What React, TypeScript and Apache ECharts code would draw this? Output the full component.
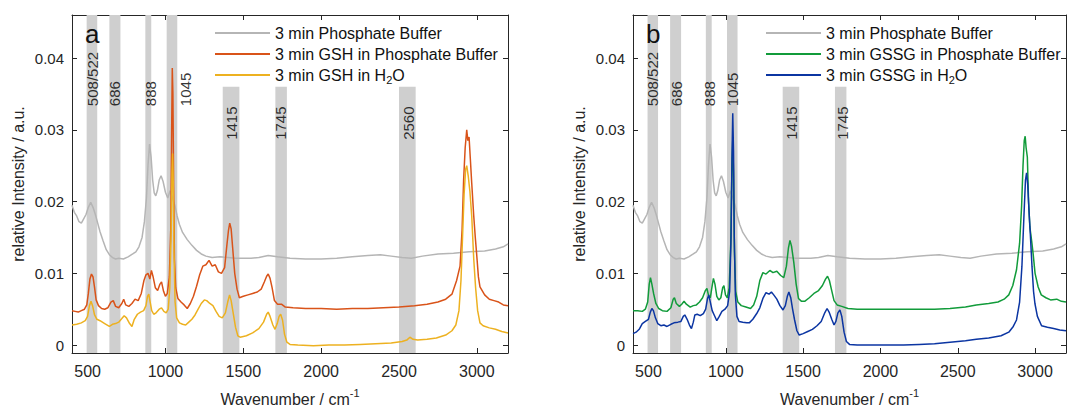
import React, { useEffect, useRef } from "react";
import * as echarts from "echarts";

// ---------- data ----------
const xTicks = [500, 1000, 1500, 2000, 2500, 3000];
const yTicks = [0, 0.01, 0.02, 0.03, 0.04];

const nameBuffer = "3 min Phosphate Buffer";
const nameGshPB = "3 min GSH in Phosphate Buffer";
const nameGshH2O = "3 min GSH in H2O";
const nameGssgPB = "3 min GSSG in Phosphate Buffer";
const nameGssgH2O = "3 min GSSG in H2O";

const bufferSpectrum: [number, number][] = [
  [400,0.0195],[415,0.0185],[430,0.0180],[445,0.0172],[460,0.0170],[475,0.0176],[490,0.0182],[505,0.0192],[520,0.0199],[535,0.0192],[550,0.0182],[565,0.0170],[580,0.0158],[600,0.0145],[620,0.0133],[640,0.0126],[660,0.0122],[680,0.0120],[700,0.0121],[730,0.0120],[760,0.0123],[790,0.0127],[810,0.0130],[830,0.0137],[850,0.0150],[865,0.0172],[878,0.0205],[888,0.0250],[898,0.0280],[908,0.0262],[918,0.0230],[928,0.0212],[938,0.0208],[948,0.0215],[960,0.0230],[972,0.0236],[985,0.0228],[1000,0.0213],[1015,0.0205],[1030,0.0215],[1045,0.0205],[1060,0.0195],[1075,0.0180],[1090,0.0168],[1110,0.0157],[1140,0.0147],[1170,0.0139],[1200,0.0132],[1230,0.0127],[1260,0.0124],[1300,0.0122],[1350,0.0123],[1400,0.0122],[1450,0.0121],[1500,0.0121],[1550,0.0121],[1600,0.0122],[1660,0.0125],[1720,0.0123],[1800,0.0121],[1900,0.0120],[2000,0.0120],[2100,0.0121],[2200,0.0123],[2300,0.0125],[2380,0.0126],[2450,0.0124],[2520,0.0122],[2580,0.0121],[2650,0.0124],[2750,0.0127],[2850,0.0128],[2950,0.0130],[3050,0.0131],[3120,0.0134],[3170,0.0137],[3200,0.0141]
];

const gshBufferSpectrum: [number, number][] = [
  [400,0.0048],[420,0.0047],[440,0.0046],[460,0.0048],[480,0.0050],[495,0.0056],[505,0.0072],[515,0.0092],[525,0.0099],[535,0.0095],[545,0.0080],[555,0.0063],[570,0.0055],[590,0.0051],[610,0.0050],[630,0.0052],[650,0.0060],[665,0.0062],[680,0.0054],[700,0.0052],[720,0.0058],[732,0.0064],[745,0.0056],[765,0.0054],[785,0.0058],[805,0.0064],[825,0.0062],[845,0.0072],[862,0.0090],[875,0.0098],[888,0.0100],[900,0.0092],[910,0.0104],[920,0.0096],[935,0.0080],[950,0.0076],[965,0.0085],[975,0.0088],[988,0.0075],[1000,0.0068],[1012,0.0072],[1025,0.0095],[1034,0.0160],[1040,0.0300],[1044,0.0386],[1048,0.0350],[1053,0.0220],[1058,0.0120],[1066,0.0080],[1080,0.0065],[1100,0.0060],[1120,0.0056],[1140,0.0051],[1160,0.0058],[1180,0.0068],[1200,0.0082],[1220,0.0098],[1240,0.0110],[1260,0.0112],[1280,0.0118],[1300,0.0110],[1320,0.0112],[1340,0.0102],[1360,0.0100],[1380,0.0108],[1395,0.0140],[1405,0.0160],[1413,0.0170],[1422,0.0162],[1432,0.0135],[1445,0.0100],[1460,0.0078],[1475,0.0066],[1500,0.0068],[1530,0.0070],[1560,0.0072],[1590,0.0074],[1615,0.0078],[1635,0.0088],[1650,0.0096],[1660,0.0099],[1672,0.0093],[1685,0.0080],[1700,0.0062],[1720,0.0057],[1745,0.0057],[1770,0.0053],[1820,0.0052],[1900,0.0051],[2000,0.0051],[2100,0.0050],[2200,0.0051],[2300,0.0051],[2400,0.0052],[2500,0.0053],[2600,0.0055],[2680,0.0057],[2750,0.0060],[2800,0.0064],[2840,0.0071],[2870,0.0090],[2892,0.0110],[2905,0.0160],[2915,0.0230],[2925,0.0275],[2935,0.0300],[2942,0.0285],[2950,0.0290],[2958,0.0260],[2967,0.0226],[2980,0.0180],[2990,0.0150],[2999,0.0126],[3010,0.0095],[3020,0.0081],[3050,0.0070],[3080,0.0064],[3110,0.0062],[3140,0.0060],[3170,0.0056],[3200,0.0055]
];

const gshWaterSpectrum: [number, number][] = [
  [400,0.0028],[430,0.0029],[460,0.0031],[485,0.0034],[500,0.0040],[512,0.0055],[522,0.0061],[532,0.0055],[545,0.0042],[560,0.0036],[580,0.0034],[610,0.0030],[640,0.0026],[660,0.0029],[680,0.0030],[700,0.0032],[720,0.0037],[735,0.0041],[750,0.0038],[770,0.0030],[785,0.0026],[800,0.0036],[820,0.0043],[840,0.0046],[860,0.0048],[875,0.0055],[885,0.0068],[893,0.0071],[902,0.0060],[912,0.0048],[925,0.0043],[940,0.0045],[960,0.0050],[975,0.0052],[990,0.0047],[1005,0.0045],[1018,0.0050],[1028,0.0080],[1036,0.0150],[1042,0.0240],[1046,0.0267],[1050,0.0230],[1055,0.0130],[1062,0.0060],[1072,0.0038],[1090,0.0031],[1110,0.0029],[1130,0.0028],[1150,0.0032],[1170,0.0036],[1190,0.0042],[1210,0.0050],[1230,0.0058],[1250,0.0063],[1265,0.0062],[1285,0.0058],[1305,0.0055],[1325,0.0047],[1345,0.0040],[1365,0.0038],[1385,0.0045],[1400,0.0060],[1412,0.0070],[1422,0.0062],[1435,0.0045],[1450,0.0025],[1465,0.0013],[1480,0.0011],[1520,0.0013],[1560,0.0017],[1600,0.0023],[1630,0.0032],[1650,0.0043],[1660,0.0046],[1672,0.0040],[1690,0.0028],[1704,0.0022],[1718,0.0030],[1730,0.0040],[1740,0.0043],[1752,0.0035],[1765,0.0015],[1780,0.0004],[1800,0.0001],[1850,0.0000],[1950,-0.0001],[2050,0.0000],[2150,0.0000],[2250,0.0001],[2350,0.0002],[2450,0.0003],[2520,0.0005],[2550,0.0007],[2570,0.0011],[2590,0.0008],[2620,0.0007],[2680,0.0008],[2740,0.0010],[2800,0.0014],[2840,0.0020],[2865,0.0028],[2885,0.0048],[2898,0.0090],[2908,0.0150],[2918,0.0210],[2928,0.0245],[2935,0.0250],[2945,0.0235],[2955,0.0215],[2967,0.0180],[2980,0.0120],[2992,0.0080],[3005,0.0048],[3020,0.0031],[3040,0.0027],[3080,0.0024],[3120,0.0022],[3160,0.0019],[3200,0.0017]
];

const gssgBufferSpectrum: [number, number][] = [
  [400,0.0048],[430,0.0048],[460,0.0047],[480,0.0050],[495,0.0060],[505,0.0085],[513,0.0094],[522,0.0085],[533,0.0072],[548,0.0058],[566,0.0051],[590,0.0048],[620,0.0047],[645,0.0052],[660,0.0064],[668,0.0066],[680,0.0058],[700,0.0054],[715,0.0057],[730,0.0061],[745,0.0057],[770,0.0053],[790,0.0055],[810,0.0056],[830,0.0060],[850,0.0066],[868,0.0076],[878,0.0079],[890,0.0068],[900,0.0066],[910,0.0080],[920,0.0093],[930,0.0085],[942,0.0068],[955,0.0063],[968,0.0066],[980,0.0080],[988,0.0083],[998,0.0070],[1010,0.0066],[1022,0.0080],[1032,0.0140],[1040,0.0250],[1045,0.0285],[1050,0.0240],[1056,0.0130],[1064,0.0075],[1078,0.0060],[1100,0.0055],[1130,0.0053],[1160,0.0051],[1180,0.0056],[1200,0.0068],[1220,0.0090],[1240,0.0101],[1260,0.0099],[1285,0.0104],[1305,0.0101],[1330,0.0103],[1355,0.0097],[1375,0.0094],[1392,0.0110],[1405,0.0135],[1415,0.0146],[1425,0.0138],[1440,0.0115],[1455,0.0085],[1470,0.0065],[1490,0.0061],[1510,0.0061],[1540,0.0066],[1570,0.0072],[1600,0.0076],[1625,0.0083],[1645,0.0092],[1658,0.0096],[1670,0.0090],[1685,0.0076],[1700,0.0062],[1720,0.0056],[1750,0.0054],[1790,0.0051],[1850,0.0050],[1950,0.0050],[2050,0.0050],[2150,0.0050],[2250,0.0050],[2350,0.0050],[2450,0.0051],[2550,0.0053],[2620,0.0056],[2700,0.0058],[2760,0.0060],[2800,0.0064],[2830,0.0070],[2856,0.0083],[2880,0.0105],[2900,0.0142],[2913,0.0194],[2922,0.0250],[2930,0.0285],[2936,0.0291],[2942,0.0275],[2950,0.0262],[2958,0.0200],[2966,0.0165],[2978,0.0145],[2988,0.0126],[3000,0.0100],[3020,0.0081],[3040,0.0070],[3070,0.0066],[3100,0.0063],[3140,0.0064],[3170,0.0061],[3200,0.0060]
];

const gssgWaterSpectrum: [number, number][] = [
  [400,0.0016],[420,0.0018],[440,0.0022],[460,0.0030],[480,0.0033],[500,0.0036],[512,0.0046],[522,0.0051],[532,0.0048],[545,0.0038],[560,0.0030],[580,0.0027],[600,0.0028],[620,0.0026],[645,0.0029],[665,0.0031],[690,0.0032],[710,0.0033],[725,0.0040],[735,0.0042],[750,0.0036],[765,0.0028],[778,0.0023],[790,0.0032],[800,0.0042],[815,0.0043],[835,0.0041],[855,0.0044],[870,0.0050],[882,0.0065],[890,0.0070],[900,0.0060],[912,0.0048],[925,0.0042],[942,0.0034],[958,0.0040],[975,0.0047],[995,0.0050],[1012,0.0055],[1025,0.0075],[1034,0.0150],[1040,0.0260],[1045,0.0323],[1050,0.0270],[1055,0.0150],[1062,0.0070],[1072,0.0040],[1086,0.0033],[1110,0.0032],[1135,0.0031],[1152,0.0031],[1175,0.0036],[1200,0.0044],[1220,0.0052],[1240,0.0065],[1260,0.0073],[1280,0.0071],[1295,0.0074],[1310,0.0070],[1330,0.0064],[1350,0.0055],[1370,0.0049],[1385,0.0055],[1398,0.0068],[1408,0.0074],[1420,0.0066],[1432,0.0050],[1445,0.0035],[1460,0.0020],[1475,0.0014],[1500,0.0016],[1530,0.0019],[1560,0.0022],[1590,0.0027],[1617,0.0033],[1640,0.0045],[1655,0.0051],[1668,0.0046],[1685,0.0036],[1700,0.0028],[1712,0.0033],[1725,0.0045],[1738,0.0049],[1750,0.0040],[1765,0.0018],[1780,0.0005],[1800,0.0001],[1850,0.0000],[1950,0.0000],[2050,0.0000],[2150,0.0000],[2250,0.0001],[2350,0.0002],[2450,0.0004],[2550,0.0006],[2620,0.0008],[2700,0.0010],[2780,0.0013],[2830,0.0018],[2859,0.0026],[2880,0.0035],[2900,0.0060],[2915,0.0110],[2928,0.0180],[2938,0.0230],[2945,0.0240],[2952,0.0225],[2960,0.0190],[2968,0.0160],[2980,0.0110],[2990,0.0075],[2999,0.0058],[3015,0.0040],[3042,0.0027],[3080,0.0025],[3120,0.0023],[3160,0.0021],[3200,0.0020]
];

// highlighted bands: [from, to, top (null = full height)]
const bandsA: [number, number, number | null][] = [
  [494, 562, null], [640, 711, null], [871, 909, null], [1008, 1076, null],
  [1368, 1475, 0.036], [1706, 1780, 0.036], [2500, 2607, 0.036],
];
const bandsB: [number, number, number | null][] = bandsA.slice(0, 6);

// band labels: [x, y of text start, text]
const bandLabelsA: [number, number, string][] = [
  [532, 0.0333, "508/522"], [676, 0.0333, "686"], [901, 0.0333, "888"], [1126, 0.0333, "1045"],
  [1424, 0.0286, "1415"], [1742, 0.0286, "1745"], [2564, 0.0286, "2560"],
];
const bandLabelsB: [number, number, string][] = [
  [527, 0.0333, "508/522"], [680, 0.0333, "686"], [893, 0.0333, "888"], [1045, 0.0333, "1045"],
  [1423, 0.0286, "1415"], [1752, 0.0286, "1745"],
];

// ---------- styling ----------
const X_MIN = 400, X_MAX = 3200, Y_MIN = -0.0011, Y_MAX = 0.046;
const INK = "#262626";
const FONT = "Liberation Sans, Arial, Helvetica, sans-serif";
const COLORS: Record<string, string> = {
  [nameBuffer]: "#b5b5b5",
  [nameGshPB]: "#d95319",
  [nameGshH2O]: "#edb120",
  [nameGssgPB]: "#119b3a",
  [nameGssgH2O]: "#0b35a2",
};

function xAxis(gridIndex: number, position: "bottom" | "top", labels: boolean) {
  return {
    type: "value", gridIndex, position, min: X_MIN, max: X_MAX,
    name: labels ? "Wavenumber / cm{sup|-1}" : "",
    nameLocation: "middle", nameGap: 34,
    nameTextStyle: {
      fontSize: 16, color: INK, fontFamily: FONT, lineHeight: 24,
      rich: { sup: { fontSize: 11, color: INK, fontFamily: FONT, verticalAlign: "top", lineHeight: 12 } },
    },
    axisLine: { show: true, onZero: false, lineStyle: { color: INK, width: 1 } },
    axisTick: { show: true, inside: true, length: 5, customValues: xTicks, lineStyle: { color: INK } },
    axisLabel: {
      show: labels, customValues: xTicks, fontSize: 16, color: INK, fontFamily: FONT, margin: 10,
      formatter: (v: number) => String(v),
    },
    splitLine: { show: false },
  };
}

function yAxis(gridIndex: number, position: "left" | "right", labels: boolean) {
  return {
    type: "value", gridIndex, position, min: Y_MIN, max: Y_MAX,
    name: labels ? "relative Intensity / a.u." : "",
    nameLocation: "middle", nameGap: 46,
    nameTextStyle: { fontSize: 16, color: INK, fontFamily: FONT },
    axisLine: { show: true, onZero: false, lineStyle: { color: INK, width: 1 } },
    axisTick: { show: true, inside: true, length: 5, customValues: yTicks, lineStyle: { color: INK } },
    axisLabel: {
      show: labels, customValues: yTicks, fontSize: 15, color: INK, fontFamily: FONT, margin: 8,
      formatter: (v: number) => (v === 0 ? "0" : v.toFixed(2)),
    },
    splitLine: { show: false },
  };
}

function spectrum(name: string, data: [number, number][], panel: number) {
  return {
    type: "line", name, data, xAxisIndex: panel * 2, yAxisIndex: panel * 2,
    showSymbol: false, symbol: "none", color: COLORS[name], z: 3,
    lineStyle: { width: 1.5, color: COLORS[name] }, silent: true, clip: true,
  };
}

function bandSeries(bands: [number, number, number | null][], panel: number) {
  return {
    type: "line", name: "bands" + panel, data: [], xAxisIndex: panel * 2, yAxisIndex: panel * 2, z: 1,
    silent: true,
    markArea: {
      silent: true,
      itemStyle: { color: "#cfcfcf" },
      data: bands.map(([a, b, top]) =>
        top === null
          ? [{ xAxis: a }, { xAxis: b }]
          : [{ xAxis: a, yAxis: Y_MIN }, { xAxis: b, yAxis: top }]
      ),
    },
  };
}

function labelSeries(items: [number, number, string][], panel: number) {
  return {
    type: "scatter", name: "labels" + panel, xAxisIndex: panel * 2, yAxisIndex: panel * 2, z: 5,
    symbol: "circle", symbolSize: 2, itemStyle: { color: "rgba(0,0,0,0)" }, silent: true,
    data: items.map(([x, y, t]) => ({ value: [x, y], name: t })),
    label: {
      show: true, formatter: "{b}", rotate: 90, position: [1, 1], align: "left", verticalAlign: "middle",
      fontSize: 15, color: "#000", fontFamily: FONT, textBorderWidth: 0,
    },
  };
}

function legend(names: string[], left: number) {
  return {
    data: names, orient: "vertical", left, top: 23, icon: "rect", padding: 0,
    itemWidth: 55, itemHeight: 2, itemGap: 1,
    textStyle: {
      fontSize: 16, color: "#111", fontFamily: FONT, lineHeight: 20,
      rich: { sub: { fontSize: 11, color: "#111", fontFamily: FONT, verticalAlign: "bottom", lineHeight: 14 } },
    },
    formatter: (n: string) => n.replace("H2O", "H{sub|2}O"),
    selectedMode: false,
  };
}

export default function App() {
  const ref = useRef<HTMLDivElement>(null);
  useEffect(() => {
    if (!ref.current) return;
    const chart = echarts.init(ref.current, undefined, { renderer: "svg" });
    chart.setOption({
      animation: false,
      backgroundColor: "#ffffff",
      title: [
        { text: "a", left: 80, top: 16, textStyle: { fontSize: 26, fontWeight: "normal", color: "#111", fontFamily: FONT } },
        { text: "b", left: 641, top: 16, textStyle: { fontSize: 26, fontWeight: "normal", color: "#111", fontFamily: FONT } },
      ],
      grid: [
        { left: 72, top: 15, width: 436, height: 346 },
        { left: 633, top: 15, width: 433, height: 346 },
      ],
      xAxis: [xAxis(0, "bottom", true), xAxis(0, "top", false), xAxis(1, "bottom", true), xAxis(1, "top", false)],
      yAxis: [yAxis(0, "left", true), yAxis(0, "right", false), yAxis(1, "left", true), yAxis(1, "right", false)],
      legend: [
        legend([nameBuffer, nameGshPB, nameGshH2O], 215),
        legend([nameBuffer, nameGssgPB, nameGssgH2O], 766),
      ],
      series: [
        bandSeries(bandsA, 0),
        spectrum(nameBuffer, bufferSpectrum, 0),
        spectrum(nameGshPB, gshBufferSpectrum, 0),
        spectrum(nameGshH2O, gshWaterSpectrum, 0),
        labelSeries(bandLabelsA, 0),
        bandSeries(bandsB, 1),
        spectrum(nameBuffer, bufferSpectrum, 1),
        spectrum(nameGssgPB, gssgBufferSpectrum, 1),
        spectrum(nameGssgH2O, gssgWaterSpectrum, 1),
        labelSeries(bandLabelsB, 1),
      ],
    });
    return () => chart.dispose();
  }, []);
  return (
    <div
      ref={ref}
      style={{ position: "fixed", left: 0, top: 0, width: 1067, height: 416, background: "#fff" }}
    />
  );
}
